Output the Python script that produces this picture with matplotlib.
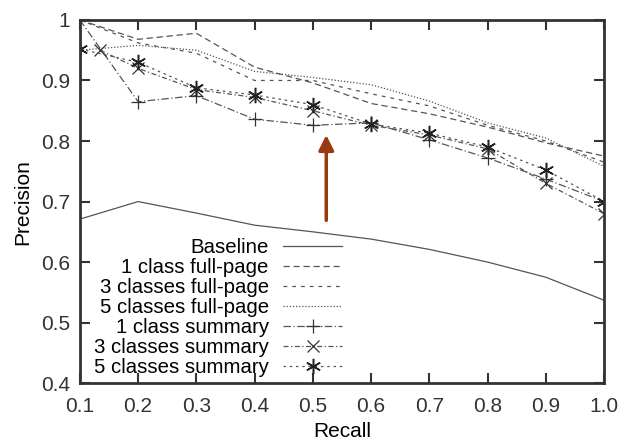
import matplotlib
matplotlib.use("Agg")
import matplotlib.pyplot as plt

plt.rcParams["font.family"] = ["Liberation Sans", "DejaVu Sans"]

recall = [0.1, 0.2, 0.3, 0.4, 0.5, 0.6, 0.7, 0.8, 0.9, 1.0]
recall_3sum = [0.135, 0.2, 0.3, 0.4, 0.5, 0.6, 0.7, 0.8, 0.9, 1.0]

baseline = [0.671, 0.700, 0.681, 0.661, 0.650, 0.638, 0.621, 0.600, 0.575, 0.537]
full_1 = [1.000, 0.968, 0.978, 0.922, 0.896, 0.862, 0.845, 0.823, 0.797, 0.775]
full_3 = [1.000, 0.962, 0.945, 0.900, 0.900, 0.878, 0.858, 0.826, 0.800, 0.765]
full_5 = [0.950, 0.958, 0.950, 0.915, 0.905, 0.893, 0.866, 0.830, 0.805, 0.758]
sum_1 = [1.000, 0.865, 0.875, 0.836, 0.826, 0.830, 0.802, 0.772, 0.737, 0.700]
sum_3 = [0.950, 0.920, 0.885, 0.872, 0.850, 0.826, 0.810, 0.787, 0.730, 0.680]
sum_5 = [0.952, 0.930, 0.888, 0.876, 0.860, 0.828, 0.813, 0.790, 0.752, 0.700]

x_ticks = [0.1, 0.2, 0.3, 0.4, 0.5, 0.6, 0.7, 0.8, 0.9, 1.0]
x_labels = ["0.1", "0.2", "0.3", "0.4", "0.5", "0.6", "0.7", "0.8", "0.9", "1.0"]
y_ticks = [0.4, 0.5, 0.6, 0.7, 0.8, 0.9, 1.0]
y_labels = ["0.4", "0.5", "0.6", "0.7", "0.8", "0.9", "1"]

fig = plt.figure(figsize=(6.19, 4.43), dpi=100)
ax = fig.add_axes([0.129, 0.135, 0.847, 0.82])

gray = "#555555"
lw = 0.9

ax.plot(recall, baseline, color=gray, lw=lw, label="Baseline")
ax.plot(recall, full_1, color=gray, lw=lw, dashes=(5, 3), label="1 class full-page")
ax.plot(recall, full_3, color=gray, lw=lw, dashes=(3, 4), label="3 classes full-page")
ax.plot(recall, full_5, color=gray, lw=lw, dashes=(1, 1.5), label="5 classes full-page")
ax.plot(recall, sum_1, color=gray, lw=lw, dashes=(6, 2, 1, 2),
        marker="+", ms=10, mew=0.9, mec="#333333", label="1 class summary")
ax.plot(recall_3sum, sum_3, color=gray, lw=lw, dashes=(4, 2, 1, 2),
        marker="x", ms=8, mew=0.9, mec="#333333", label="3 classes summary")
ax.plot(recall, sum_5, color=gray, lw=lw, dashes=(2, 3),
        marker=(6, 2, 0), ms=11, mew=1.1, mec="#222222", label="5 classes summary")

# arrow marking the improvement over the baseline
ax.annotate("", xy=(0.523, 0.81), xytext=(0.523, 0.669),
            arrowprops=dict(arrowstyle="-|>,head_length=0.9,head_width=0.45",
                            color="#9a3810", lw=2.5, shrinkA=0, shrinkB=0))

ax.set_xlim(0.1, 1.0)
ax.set_ylim(0.4, 1.0)
ax.set_xticks(x_ticks)
ax.set_xticklabels(x_labels)
ax.set_yticks(y_ticks)
ax.set_yticklabels(y_labels)
ax.tick_params(direction="in", length=7, width=1.5, top=True, right=True,
               labelsize=15, colors="#333333")
ax.tick_params(axis="x", pad=10)
ax.tick_params(axis="y", pad=7)
for side in ax.spines.values():
    side.set_linewidth(2)
    side.set_color("#333333")

ax.set_xlabel("Recall", fontsize=15, labelpad=4)
ax.set_ylabel("Precision", fontsize=15, labelpad=6)

ax.legend(loc="upper right", bbox_to_anchor=(0.52, 0.427), frameon=False,
          markerfirst=False, fontsize=14.7, handlelength=2.9, handletextpad=0.7,
          labelspacing=0.05, borderpad=0.0)

fig.savefig("out.png", dpi=100)
